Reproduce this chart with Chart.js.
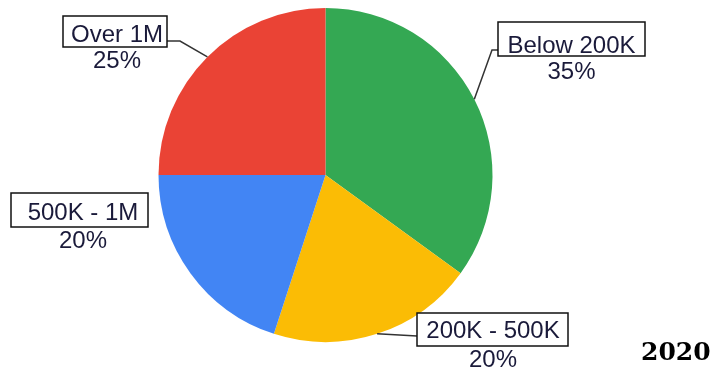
<!DOCTYPE html>
<html>
<head>
<meta charset="utf-8">
<script src="https://cdn.jsdelivr.net/npm/chart.js@4/dist/chart.umd.min.js"></script>
<style>
  html, body { margin: 0; padding: 0; background: #ffffff; }
  #wrap { position: relative; width: 719px; height: 371px; }
</style>
</head>
<body>
<div id="wrap"><canvas id="pie" width="719" height="371"></canvas></div>
<script>
// Income brackets and their shares
const categories = ['Below 200K', '200K - 500K', '500K - 1M', 'Over 1M'];
const shares = [35, 20, 20, 25];
const sliceColors = ['#34A853', '#FBBC05', '#4285F4', '#EA4335'];
const yearLabel = '2020';

// Callout boxes: rectangle, text centre, baselines, optional leader path
const callouts = [
  { box: [498, 22, 147, 34], cx: 571.5, base1: 53, base2: 79, path: [[492, 50], [498, 50]] },
  { box: [417, 313, 151, 33], cx: 493, base1: 338, base2: 367, path: [[417, 336]] },
  { box: [11, 193, 137, 34], cx: 83, base1: 220, base2: 248, path: null },
  { box: [63, 16, 104, 31], cx: 117, base1: 41.5, base2: 68, path: [[180, 41], [167, 41]] }
];

const calloutPlugin = {
  id: 'callouts',
  afterDatasetsDraw(chart) {
    const ctx = chart.ctx;
    const meta = chart.getDatasetMeta(0);
    const values = chart.data.datasets[0].data;
    const total = values.reduce((a, b) => a + b, 0);
    ctx.save();
    meta.data.forEach((arc, i) => {
      const c = callouts[i];
      const p = arc.getProps(['x', 'y', 'startAngle', 'endAngle', 'outerRadius'], true);
      const mid = (p.startAngle + p.endAngle) / 2;
      const ex = p.x + Math.cos(mid) * p.outerRadius;
      const ey = p.y + Math.sin(mid) * p.outerRadius;
      if (c.path) {
        ctx.beginPath();
        ctx.strokeStyle = '#333333';
        ctx.lineWidth = 1.5;
        ctx.moveTo(ex, ey);
        c.path.forEach(pt => ctx.lineTo(pt[0], pt[1]));
        ctx.stroke();
      }
      ctx.fillStyle = '#ffffff';
      ctx.fillRect(c.box[0], c.box[1], c.box[2], c.box[3]);
      ctx.strokeStyle = '#111111';
      ctx.lineWidth = 1.5;
      ctx.strokeRect(c.box[0], c.box[1], c.box[2], c.box[3]);
      ctx.fillStyle = '#1a1a3a';
      ctx.font = '24px "Liberation Sans", Arial, sans-serif';
      ctx.textAlign = 'center';
      ctx.textBaseline = 'alphabetic';
      ctx.fillText(chart.data.labels[i], c.cx, c.base1);
      ctx.fillText(Math.round(values[i] / total * 100) + '%', c.cx, c.base2);
    });
    ctx.fillStyle = '#000000';
    ctx.font = 'bold 25px "DejaVu Serif", serif';
    ctx.textAlign = 'left';
    ctx.fillText(yearLabel, 641, 360);
    ctx.restore();
  }
};

new Chart(document.getElementById('pie'), {
  type: 'pie',
  data: {
    labels: categories,
    datasets: [{
      data: shares,
      backgroundColor: sliceColors,
      borderWidth: 0
    }]
  },
  options: {
    responsive: false,
    animation: false,
    rotation: 0,
    layout: { padding: { left: 158, right: 226, top: 8, bottom: 29 } },
    plugins: {
      legend: { display: false },
      tooltip: { enabled: false }
    }
  },
  plugins: [calloutPlugin]
});
</script>
</body>
</html>
